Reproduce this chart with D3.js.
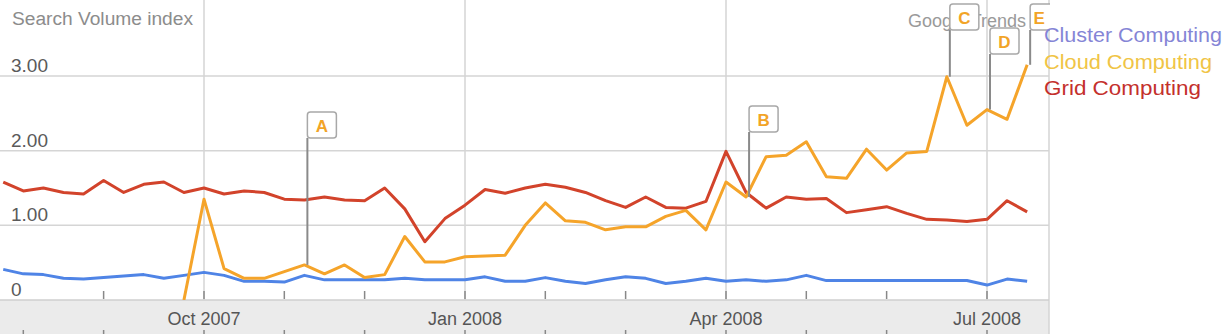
<!DOCTYPE html>
<html>
<head>
<meta charset="utf-8">
<script src="https://cdn.jsdelivr.net/npm/d3@7"></script>
<style>
  body { margin: 0; background: #fff; }
  svg { display: block; font-family: "Liberation Sans", Arial, sans-serif; }
</style>
</head>
<body>
<svg id="chart" width="1230" height="334"></svg>
<script>
// weekly points, Sunday to Sunday
const firstWeek = "2007-07-22"
const lastWeek = "2008-07-13"

const cluster = [0.41, 0.35, 0.34, 0.29, 0.28, 0.30, 0.32, 0.34, 0.29, 0.33,
  0.37, 0.33, 0.25, 0.25, 0.24, 0.33, 0.27, 0.27, 0.27, 0.27,
  0.29, 0.27, 0.27, 0.27, 0.31, 0.25, 0.25, 0.30, 0.25, 0.22,
  0.27, 0.31, 0.29, 0.22, 0.25, 0.29, 0.25, 0.27, 0.25, 0.27,
  0.33, 0.26, 0.26, 0.26, 0.26, 0.26, 0.26, 0.26, 0.26, 0.20,
  0.28, 0.25]
const cloud = [null, null, null, null, null, null, null, null, null, 0,
  1.35, 0.42, 0.29, 0.29, 0.38, 0.47, 0.35, 0.47, 0.30, 0.34,
  0.85, 0.51, 0.51, 0.58, 0.59, 0.60, 1.00, 1.30, 1.06, 1.04,
  0.94, 0.98, 0.98, 1.12, 1.20, 0.94, 1.58, 1.38, 1.92, 1.94,
  2.12, 1.65, 1.63, 2.02, 1.74, 1.97, 1.99, 2.99, 2.34, 2.55,
  2.42, 3.15]
const grid = [1.58, 1.46, 1.50, 1.44, 1.42, 1.60, 1.44, 1.55, 1.58, 1.44,
  1.50, 1.42, 1.46, 1.44, 1.35, 1.34, 1.38, 1.34, 1.33, 1.50,
  1.22, 0.78, 1.09, 1.27, 1.48, 1.43, 1.50, 1.55, 1.51, 1.44,
  1.33, 1.24, 1.38, 1.24, 1.23, 1.32, 1.99, 1.44, 1.23, 1.38,
  1.35, 1.36, 1.17, 1.21, 1.25, 1.16, 1.08, 1.07, 1.05, 1.08,
  1.33, 1.18]

const yTicks = [1, 2, 3]
const monthTicks = ["2007-07-29", "2007-08-26", "2007-09-30", "2007-10-28", "2007-11-25",
  "2007-12-30", "2008-01-27", "2008-02-24", "2008-03-30", "2008-04-27", "2008-05-25", "2008-06-29"]
const quarterTicks = ["2007-09-30", "2007-12-30", "2008-03-30", "2008-06-29"]
const quarterLabels = ["Oct 2007", "Jan 2008", "Apr 2008", "Jul 2008"]
const seriesNames = ["Cluster Computing", "Cloud Computing", "Grid Computing"]
const markerLetters = ["A", "B", "C", "D", "E"]
const markerWeeks = [15, 37, 47, 49, 51]

const parse = d3.utcParse("%Y-%m-%d")
const weeks = d3.utcWeek.range(parse(firstWeek), d3.utcDay.offset(parse(lastWeek), 1))

const W = 1049, H = 300
const svg = d3.select("#chart")

const x = d3.scaleUtc()
  .domain([parse("2007-09-30"), parse("2008-06-29")])
  .range([204, 987])
const y = d3.scaleLinear().domain([0, 3]).range([H, 76])

// bottom band
svg.append("rect").attr("x", 0).attr("y", H).attr("width", W).attr("height", 34).attr("fill", "#ebebeb")

// grid
svg.append("g").selectAll("line").data(yTicks).join("line")
  .attr("x1", 0).attr("x2", W).attr("y1", d => y(d)).attr("y2", d => y(d))
  .attr("stroke", "#d5d5d5").attr("stroke-width", 1.5)
svg.append("g").selectAll("line").data(quarterTicks).join("line")
  .attr("x1", d => x(parse(d))).attr("x2", d => x(parse(d)))
  .attr("y1", 0).attr("y2", H)
  .attr("stroke", "#d5d5d5").attr("stroke-width", 1.5)
svg.append("line").attr("x1", W).attr("x2", W).attr("y1", 0).attr("y2", 334)
  .attr("stroke", "#d5d5d5").attr("stroke-width", 1.5)
svg.append("line").attr("x1", 0).attr("x2", W).attr("y1", H).attr("y2", H)
  .attr("stroke", "#cfcfcf").attr("stroke-width", 1.5)

// ticks
svg.append("g").selectAll("line").data(monthTicks.slice(1)).join("line")
  .attr("x1", d => x(parse(d))).attr("x2", d => x(parse(d)))
  .attr("y1", 291).attr("y2", 299)
  .attr("stroke", "#888").attr("stroke-width", 1.5)
svg.append("g").selectAll("line").data(monthTicks).join("line")
  .attr("x1", d => x(parse(d))).attr("x2", d => x(parse(d)))
  .attr("y1", 330).attr("y2", 334)
  .attr("stroke", "#888").attr("stroke-width", 1.5)

svg.append("g").selectAll("text").data(quarterTicks).join("text")
  .attr("x", d => x(parse(d))).attr("y", 325)
  .attr("text-anchor", "middle").attr("font-size", 18).attr("fill", "#555")
  .text((d, i) => quarterLabels[i])

// y labels
svg.append("g").selectAll("text").data([0, ...yTicks]).join("text")
  .attr("x", 11).attr("y", d => y(d) - 4)
  .attr("font-size", 19).attr("fill", "#5a5a5a")
  .text(d => d === 0 ? "0" : d3.format(".2f")(d))

svg.append("text").attr("x", 12).attr("y", 25)
  .attr("font-size", 18).attr("fill", "#8c8c8c")
  .attr("textLength", 181).attr("lengthAdjust", "spacingAndGlyphs")
  .text("Search Volume index")
svg.append("text").attr("x", 908).attr("y", 27)
  .attr("font-size", 18).attr("fill", "#9a9a9a").text("Google Trends")

// lines
svg.append("clipPath").attr("id", "plot").append("rect")
  .attr("x", 0).attr("y", 0).attr("width", W).attr("height", H)

const line = d3.line()
  .defined(d => d != null)
  .x((d, i) => x(weeks[i]))
  .y(d => y(d))

const series = [
  { values: cluster, color: "#4f84e6" },
  { values: grid, color: "#d2432b" },
  { values: cloud, color: "#f5a42a" },
]
svg.append("g").attr("clip-path", "url(#plot)")
  .selectAll("path").data(series).join("path")
  .attr("d", d => line(d.values))
  .attr("fill", "none")
  .attr("stroke", d => d.color)
  .attr("stroke-width", 3)
  .attr("stroke-linejoin", "round")

// markers
const boxTop = { A: 112, B: 106, C: 4, D: 28, E: 4 }
svg.append("clipPath").attr("id", "markclip").append("rect")
  .attr("x", 0).attr("y", 0).attr("width", W + 1).attr("height", H)
const marks = svg.append("g").attr("clip-path", "url(#markclip)")
  .selectAll("g").data(markerLetters).join("g")
  .attr("transform", (d, i) => `translate(${x(weeks[markerWeeks[i]]) + 3},0)`)
marks.append("line")
  .attr("x1", 0).attr("x2", 0)
  .attr("y1", d => boxTop[d] + 26)
  .attr("y2", (d, i) => y(cloud[markerWeeks[i]]))
  .attr("stroke", "#8a8a8a").attr("stroke-width", 2)
marks.append("rect")
  .attr("x", 0).attr("y", d => boxTop[d])
  .attr("width", 29).attr("height", 26).attr("rx", 3)
  .attr("fill", "#fff").attr("stroke", "#a8a8a8").attr("stroke-width", 1.5)
marks.append("text")
  .attr("x", d => d === "E" ? 9 : 14.5).attr("y", d => boxTop[d] + 20)
  .attr("text-anchor", "middle").attr("font-size", 17).attr("font-weight", "bold")
  .attr("fill", "#f2a427")
  .text(d => d)

// legend
const legendColors = ["#8585d6", "#f0c445", "#c4302c"]
const legendWidths = [178, 168, 157]
svg.append("g").selectAll("text").data(seriesNames).join("text")
  .attr("x", 1044).attr("y", (d, i) => 42 + i * 26.5)
  .attr("font-size", 20).attr("fill", (d, i) => legendColors[i])
  .attr("textLength", (d, i) => legendWidths[i]).attr("lengthAdjust", "spacingAndGlyphs")
  .text(d => d)
</script>
</body>
</html>
